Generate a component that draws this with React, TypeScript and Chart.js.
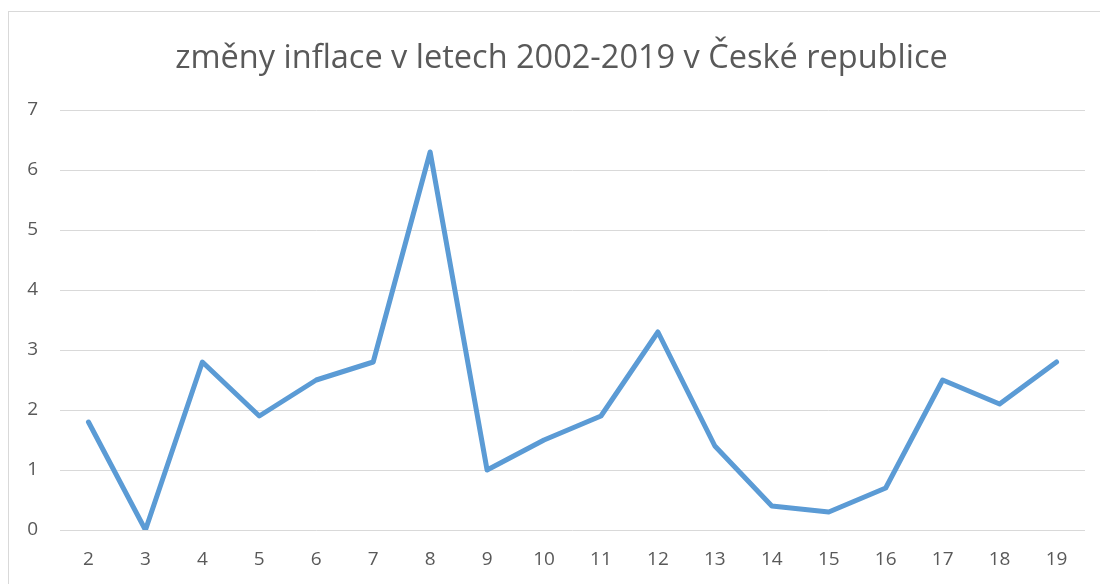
import React, { useEffect, useRef } from "react";
import { Chart, registerables } from "chart.js";

Chart.register(...registerables);

const TITLE = "změny inflace v letech 2002-2019 v České republice";
const categories = ["2", "3", "4", "5", "6", "7", "8", "9", "10", "11", "12", "13", "14", "15", "16", "17", "18", "19"];
const inflation = [1.8, 0, 2.8, 1.9, 2.5, 2.8, 6.3, 1.0, 1.5, 1.9, 3.3, 1.4, 0.4, 0.3, 0.7, 2.5, 2.1, 2.8];
const yMin = 0;
const yMax = 7;

const FONT = "'Open Sans', 'Liberation Sans', sans-serif";
const TEXT = "#595959";

const titlePlugin = {
  id: "fixedTitle",
  afterDraw(chart: any) {
    const ctx = chart.ctx;
    ctx.save();
    ctx.font = `normal 32.5px ${FONT}`;
    ctx.fillStyle = TEXT;
    ctx.textAlign = "center";
    ctx.textBaseline = "middle";
    ctx.fillText(TITLE, 552.5, 46.5);
    ctx.restore();
  },
};

export default function App() {
  const ref = useRef<HTMLCanvasElement | null>(null);

  useEffect(() => {
    if (!ref.current) return;
    const chart = new Chart(ref.current, {
      type: "line",
      data: {
        labels: categories,
        datasets: [
          {
            data: inflation,
            borderColor: "#5B9BD5",
            backgroundColor: "#5B9BD5",
            borderWidth: 5,
            pointRadius: 0,
            tension: 0,
            borderJoinStyle: "round",
            borderCapStyle: "round",
          },
        ],
      },
      plugins: [titlePlugin],
      options: {
        responsive: false,
        animation: false,
        layout: { padding: { left: 0, right: 16, top: 98, bottom: 0 } },
        plugins: {
          legend: { display: false },
          tooltip: { enabled: false },
          title: { display: false },
        },
        scales: {
          x: {
            offset: true,
            grid: { display: false, drawTicks: false },
            border: { display: false },
            ticks: {
              color: TEXT,
              font: { family: FONT, size: 19 },
              padding: 18,
              autoSkip: false,
              maxRotation: 0,
            },
            afterFit: (s: any) => {
              s.height = 55;
            },
          },
          y: {
            min: yMin,
            max: yMax,
            grid: { color: "#d9d9d9", lineWidth: 1, drawTicks: false },
            border: { display: false },
            ticks: {
              stepSize: 1,
              color: TEXT,
              font: { family: FONT, size: 19 },
              padding: 22,
            },
            afterFit: (s: any) => {
              s.width = 51;
            },
          },
        },
      },
    });
    return () => chart.destroy();
  }, []);

  return (
    <div
      style={{
        position: "absolute",
        left: 8,
        top: 11,
        width: 1200,
        height: 700,
        border: "1px solid #d9d9d9",
        boxSizing: "border-box",
        background: "#fff",
      }}
    >
      <canvas ref={ref} width={1092} height={573} style={{ display: "block" }} />
    </div>
  );
}
